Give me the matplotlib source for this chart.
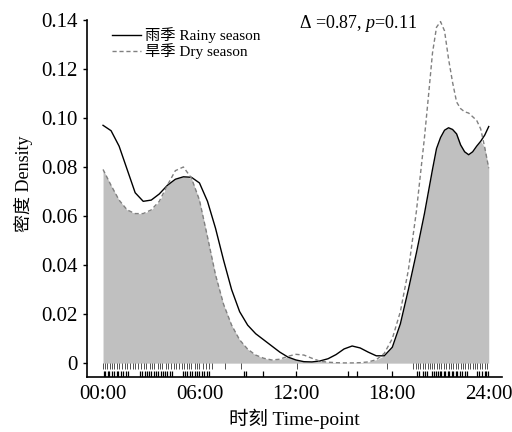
"""
Kernel density overlap of activity times: rainy vs dry season.
Grey area = overlap (min of the two curves), rugs show raw records.
"""

import matplotlib

matplotlib.use("Agg")
import matplotlib.pyplot as plt
import numpy as np

# ---------- Data ---------------------------------------------------------------

HOURS = [
    0, 0.5, 1, 1.5, 2, 2.5, 3, 3.5, 4, 4.5, 5, 5.5, 6, 6.5, 7, 7.5, 8, 8.5,
    9, 9.5, 10, 10.5, 11, 11.5, 12, 12.5, 13, 13.5, 14, 14.5, 15, 15.5, 16,
    16.5, 17, 17.5, 18, 18.5, 19, 19.5, 20, 20.25, 20.5, 20.75, 21, 21.25,
    21.5, 21.75, 22, 22.25, 22.5, 22.75, 23, 23.25, 23.5, 23.75, 24,
]

RAINY_DENSITY = [
    0.097, 0.0948, 0.0885, 0.079, 0.0695, 0.066, 0.0665, 0.069, 0.0725,
    0.075, 0.076, 0.0758, 0.0735, 0.066, 0.055, 0.042, 0.030, 0.021,
    0.0155, 0.012, 0.0095, 0.007, 0.0045, 0.0025, 0.0013, 0.0006, 0.0005,
    0.0009, 0.0018, 0.0035, 0.0058, 0.007, 0.0062, 0.0045, 0.003, 0.0030,
    0.0065, 0.016, 0.030, 0.045, 0.061, 0.070, 0.079, 0.0875, 0.092,
    0.095, 0.096, 0.0953, 0.0935, 0.089, 0.0862, 0.085, 0.0862, 0.0885,
    0.0905, 0.093, 0.0965,
]

DRY_DENSITY = [
    0.079, 0.0725, 0.0665, 0.0625, 0.061, 0.061, 0.0625, 0.066, 0.0725,
    0.0785, 0.080, 0.0755, 0.0665, 0.0515, 0.036, 0.024, 0.0155, 0.0095,
    0.0057, 0.0033, 0.002, 0.0013, 0.0016, 0.0028, 0.0036, 0.0033, 0.002,
    0.0008, 0.0004, 0.0002, 0.0001, 0.0001, 0.0002, 0.0005, 0.0014, 0.0040,
    0.010, 0.021, 0.038, 0.062, 0.092, 0.109, 0.1265, 0.137, 0.1393,
    0.1355, 0.124, 0.1145, 0.1065, 0.1038, 0.1025, 0.102, 0.1005, 0.099,
    0.0955, 0.088, 0.0795,
]

# raw detection times (hours)
RAINY_RUG = [
    0.05, 0.15, 0.3, 0.4, 0.55, 0.7, 0.85, 0.95, 1.1, 1.25, 1.4, 1.55,
    2.3, 2.45, 2.6, 2.75, 2.85, 3.0, 3.15, 3.3, 3.45, 3.6, 3.75, 3.85,
    4.0, 4.15, 4.3, 5.0, 5.1, 5.25, 5.4, 5.55, 5.7, 5.85, 6.0, 6.15, 6.3,
    6.45, 6.6, 8.77, 8.9, 9.95, 12.0, 15.24, 15.8, 17.97, 19.53, 19.65,
    19.9, 20.05, 20.15, 20.46, 20.6, 20.7, 20.85, 20.95, 21.05, 21.2,
    21.3, 21.45, 21.55, 21.7, 21.8, 21.95, 22.05, 22.2, 22.35, 22.5,
    22.62, 23.26, 23.4, 23.55, 23.75, 23.85, 23.97,
]

DRY_RUG = [
    0.0, 0.12, 0.25, 0.42, 0.55, 0.7, 0.88, 1.0, 1.2, 1.35, 1.5, 1.7,
    1.85, 2.0, 2.2, 2.35, 2.55, 2.7, 2.9, 3.05, 3.2, 3.4, 3.55, 3.7, 3.9,
    4.05, 4.2, 4.4, 4.55, 4.7, 4.9, 5.05, 5.2, 5.35, 5.5, 5.7, 5.85, 6.0,
    6.2, 6.4, 6.6, 6.75, 7.59, 8.58, 12.06, 17.66, 19.3, 19.45, 19.6,
    19.75, 19.9, 20.05, 20.2, 20.35, 20.5, 20.62, 20.75, 20.9, 21.05,
    21.2, 21.35, 21.5, 21.65, 21.8, 21.95, 22.1, 22.25, 22.4, 22.55,
    22.7, 22.85, 23.0, 23.15, 23.3, 23.45, 23.6, 23.75, 23.9,
]

Y_TICKS = [0, 0.02, 0.04, 0.06, 0.08, 0.10, 0.12, 0.14]
Y_TICK_LABELS = ["0", "0.02", "0.04", "0.06", "0.08", "0.10", "0.12", "0.14"]
X_TICKS = [0, 6, 12, 18, 24]
X_TICK_LABELS = ["00:00", "06:00", "12:00", "18:00", "24:00"]

# ---------- Style --------------------------------------------------------------

plt.rcParams["font.family"] = ["Liberation Serif", "Noto Sans CJK SC"]
plt.rcParams["mathtext.fontset"] = "custom"
plt.rcParams["mathtext.rm"] = "Liberation Serif"
plt.rcParams["mathtext.it"] = "Liberation Serif:italic"

# ---------- Plot ---------------------------------------------------------------

hours = np.array(HOURS)
rainy = np.array(RAINY_DENSITY)
dry = np.array(DRY_DENSITY)

fig = plt.figure(figsize=(5.12, 4.32), dpi=100)
ax = fig.add_axes([0.170, 0.127, 0.810, 0.827])

ax.fill_between(hours, 0, np.minimum(rainy, dry), color="#c0c0c0", lw=0)
ax.plot(hours, rainy, color="black", lw=1.0, label="雨季 Rainy season")
ax.plot(hours, dry, color="#808080", lw=1.0, ls=(0, (3, 2)),
        label="旱季 Dry season")

# rugs: dry season on the upper row, rainy season on the lower row
ax.vlines(DRY_RUG, -0.0022, 0.0, color="#505050", lw=0.7)
ax.vlines(RAINY_RUG, -0.0057, -0.0031, color="black", lw=0.9)

ax.set_xlim(-0.995, 24.81)
ax.set_ylim(-0.0057, 0.14)
ax.set_yticks(Y_TICKS)
ax.set_yticklabels(Y_TICK_LABELS)
ax.set_xticks(X_TICKS)
ax.set_xticklabels(X_TICK_LABELS)
ax.tick_params(axis="y", direction="out", length=3, width=1, pad=4,
               labelsize=15)
ax.tick_params(axis="x", length=0, pad=6, labelsize=15)

for side in ("top", "right"):
    ax.spines[side].set_visible(False)
for side in ("left", "bottom"):
    ax.spines[side].set_linewidth(1.2)

ax.set_xlabel("时刻 Time-point", fontsize=14)
ax.set_ylabel("密度 Density", fontsize=13)
ax.xaxis.set_label_coords(0.5, -0.088)
ax.yaxis.set_label_coords(-0.131, 0.54)

ax.legend(loc="upper left", bbox_to_anchor=(0.037, 1.005), frameon=False,
          fontsize=11, handlelength=1.9, handletextpad=0.3,
          labelspacing=0.02, borderaxespad=0.2)

ax.text(0.51, 0.99, "Δ =0.87, $p$=0.11", transform=ax.transAxes,
        fontsize=13, ha="left", va="center")

fig.savefig("out.png", dpi=100)
